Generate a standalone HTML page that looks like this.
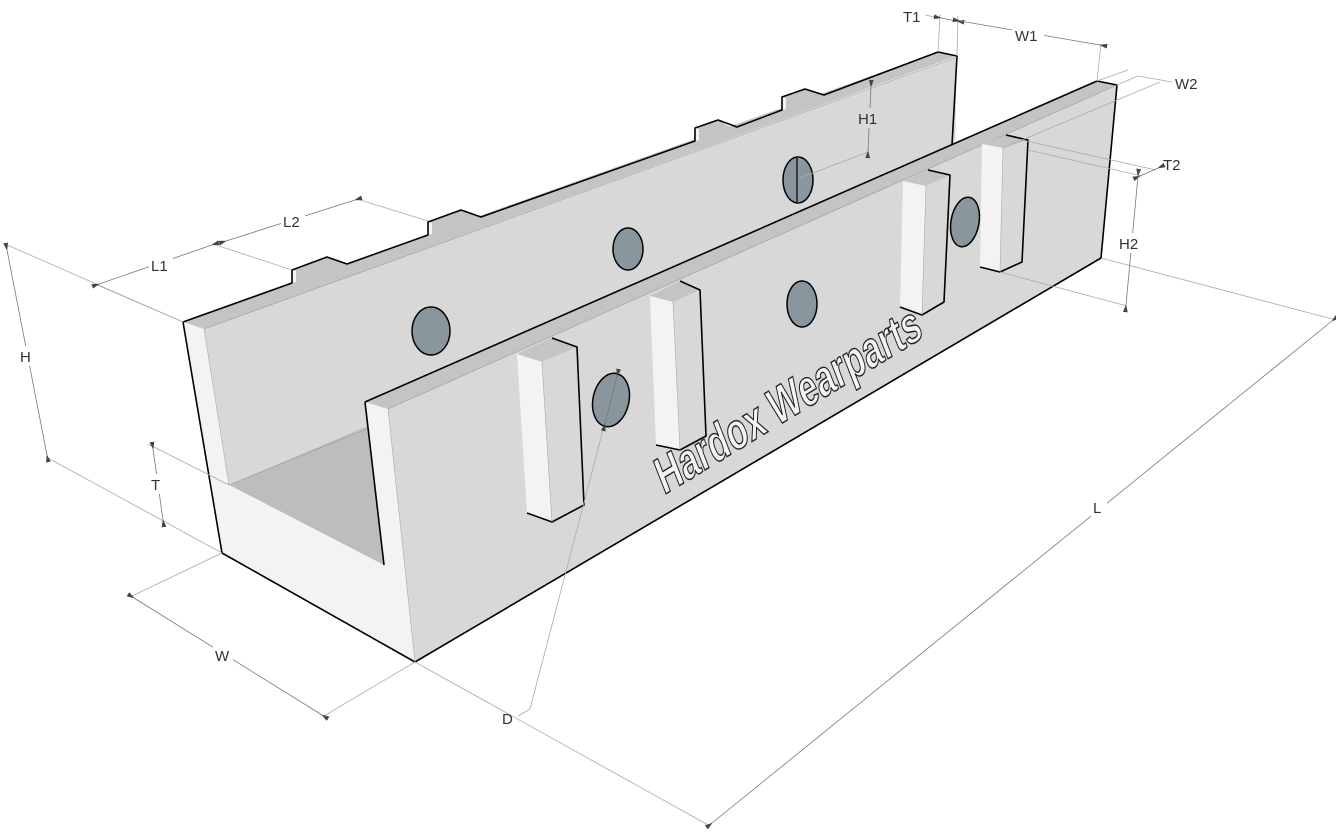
<!DOCTYPE html>
<html><head><meta charset="utf-8"><style>
html,body{margin:0;padding:0;background:#fff;}
svg{display:block;}
text{font-family:"Liberation Sans","DejaVu Sans",sans-serif;}
.d{stroke:#aaa;stroke-width:0.8;fill:none;}
.a{stroke:#777;stroke-width:0.8;fill:none;marker-start:url(#ar);marker-end:url(#ar);}
.l{font-size:15px;fill:#333;}
.k{stroke:#000;stroke-width:1.6;stroke-linejoin:round;}
</style></head><body>
<svg width="1336" height="835" viewBox="0 0 1336 835" xmlns="http://www.w3.org/2000/svg">
<defs>
<marker id="ar" viewBox="0 0 10 10" refX="1" refY="5" markerWidth="8" markerHeight="8" orient="auto-start-reverse" markerUnits="userSpaceOnUse">
<path d="M0,5 L10,2 L10,8 Z" fill="#444"/>
</marker>
</defs>

<!-- back plate inner face -->
<polygon points="204,329 957,57 952,300 229,485" fill="#d8d8d8"/>
<!-- floor -->
<polygon points="229,485 384,565 382,420" fill="#bdbdbd"/>
<line x1="229" y1="485" x2="384" y2="422" stroke="#999" stroke-width="0.6"/>
<!-- back plate top strip -->
<polygon points="183,322 938,52 957,56 204,329" fill="#c4c4c4"/>
<!-- tabs -->
<g fill="#c4c4c4">
<polygon points="292,283 292,270 327,257 347,264"/>
<polygon points="428,235 428,222 461,210 481,217"/>
<polygon points="695,141 695,128 718,120 737,131"/>
<polygon points="782,110 782,97 805,89 824,95"/>
</g>
<g fill="#f3f3f3">
<polygon points="292,283 292,270 296,271 296,282"/>
<polygon points="428,235 428,222 432,223 432,234"/>
<polygon points="695,141 695,128 699,129 699,140"/>
<polygon points="782,110 782,97 786,98 786,109"/>
</g>
<polyline class="k" fill="none" points="183,322 292,283 292,270 327,257 347,264 428,235 428,222 461,210 481,217 695,141 695,128 718,120 737,127 782,110 782,97 805,89 824,95 938,52 957,56 952,145"/>
<line x1="204" y1="329" x2="957" y2="57" stroke="#999" stroke-width="0.6"/>

<!-- back plate holes -->
<g fill="#8a969e" stroke="#000" stroke-width="1.5">
<ellipse cx="431" cy="331" rx="19" ry="24"/>
<ellipse cx="628" cy="249" rx="15" ry="21"/>
<ellipse cx="798" cy="180" rx="15" ry="23"/>
</g>
<line x1="797" y1="158" x2="797" y2="202" stroke="#000" stroke-width="1.2"/>

<!-- end face U -->
<polygon points="183,322 204,329 229,485 384,565 365,402 388,409 415,662 222,553" fill="#f3f3f3"/>
<polyline class="k" fill="none" points="183,322 222,553 415,662"/>
<polyline class="k" fill="none" points="365,402 384,565"/>
<line x1="204" y1="329" x2="229" y2="485" stroke="#aaa" stroke-width="0.6"/>

<!-- front plate top strip -->
<polygon points="365,402 1097,81 1117,85 388,409" fill="#c4c4c4"/>
<!-- front plate face -->
<polygon points="388,409 1117,85 1101,258 415,662" fill="#d8d8d8"/>
<polyline class="k" fill="none" points="365,402 1097,81 1117,85 1101,258 415,662"/>
<line x1="388" y1="409" x2="1117" y2="85" stroke="#999" stroke-width="0.6"/>
<line x1="388" y1="409" x2="415" y2="662" stroke="#aaa" stroke-width="0.6"/>

<!-- ribs -->
<g stroke-linejoin="round">
<polygon points="517,354 552,338 577,347 542,362" fill="#c4c4c4"/>
<polygon points="517,354 542,362 552,522 527,513" fill="#f3f3f3"/>
<polygon points="542,362 577,347 584,505 552,522" fill="#d8d8d8"/>
<polyline class="k" fill="none" points="552,338 577,347 584,505 552,522 527,513"/>
<line x1="542" y1="362" x2="552" y2="522" stroke="#aaa" stroke-width="0.6"/>

<polygon points="650,296 680,281 700,290 673,302" fill="#c4c4c4"/>
<polygon points="650,296 673,302 680,450 656,445" fill="#f3f3f3"/>
<polygon points="673,302 700,290 706,436 680,450" fill="#d8d8d8"/>
<polyline class="k" fill="none" points="680,281 700,290 706,436 680,450 656,445"/>
<line x1="673" y1="302" x2="680" y2="450" stroke="#aaa" stroke-width="0.6"/>

<polygon points="903,181 928,170 950,175 926,186" fill="#c4c4c4"/>
<polygon points="903,181 926,186 922,315 900,307" fill="#f3f3f3"/>
<polygon points="926,186 950,175 944,302 922,315" fill="#d8d8d8"/>
<polyline class="k" fill="none" points="928,170 950,175 944,302 922,315 900,307"/>
<line x1="926" y1="186" x2="922" y2="315" stroke="#aaa" stroke-width="0.6"/>

<polygon points="982,144 1006,135 1028,140 1003,148" fill="#c4c4c4"/>
<polygon points="982,144 1003,148 1000,272 980,267" fill="#f3f3f3"/>
<polygon points="1003,148 1028,140 1022,262 1000,272" fill="#d8d8d8"/>
<polyline class="k" fill="none" points="1006,135 1028,140 1022,262 1000,272 980,267"/>
<line x1="1003" y1="148" x2="1000" y2="272" stroke="#aaa" stroke-width="0.6"/>
</g>

<!-- front plate holes -->
<g fill="#8a969e" stroke="#000" stroke-width="1.5">
<ellipse cx="611" cy="400" rx="18" ry="27" transform="rotate(12 611 400)"/>
<ellipse cx="802" cy="304" rx="15" ry="23"/>
<ellipse cx="965" cy="222" rx="14" ry="25" transform="rotate(10 965 222)"/>
</g>

<!-- text -->
<text x="0" y="0" transform="translate(664,495) rotate(-31.3) skewX(-10)" font-size="50" font-weight="bold" fill="#f4f4f4" stroke="#222" stroke-width="1.4" textLength="305" lengthAdjust="spacingAndGlyphs">Hardox Wearparts</text>

<!-- dimension lines -->
<line class="d" x1="5" y1="244" x2="183" y2="322"/>
<line class="d" x1="48" y1="458" x2="222" y2="553"/>
<line class="a" x1="7" y1="250" x2="47" y2="455"/>
<rect x="18" y="346" width="18" height="20" fill="#fff"/>
<text class="l" x="20" y="362">H</text>
<line class="d" x1="148" y1="444" x2="229" y2="485"/>
<line class="a" x1="153" y1="449" x2="163" y2="520"/>
<rect x="150" y="474" width="14" height="20" fill="#fff"/>
<text class="l" x="151" y="490">T</text>
<line class="d" x1="130" y1="597" x2="222" y2="553"/>
<line class="d" x1="324" y1="716" x2="415" y2="662"/>
<line class="a" x1="134" y1="598" x2="322" y2="715"/>
<rect x="213" y="645" width="20" height="20" fill="#fff"/>
<text class="l" x="215" y="661">W</text>
<line class="d" x1="95" y1="284" x2="183" y2="322"/>
<line class="d" x1="213" y1="244" x2="292" y2="270"/>
<line class="a" x1="99" y1="284" x2="212" y2="245"/>
<rect x="149" y="255" width="24" height="20" fill="#fff"/>
<text class="l" x="151" y="271">L1</text>
<line class="d" x1="357" y1="199" x2="428" y2="221"/>
<line class="a" x1="226" y1="241" x2="355" y2="200"/>
<rect x="281" y="211" width="24" height="20" fill="#fff"/>
<text class="l" x="283" y="227">L2</text>
<line class="d" x1="868" y1="152" x2="800" y2="178"/>
<line class="a" x1="871" y1="87" x2="868" y2="151"/>
<rect x="857" y="108" width="26" height="20" fill="#d8d8d8"/>
<text class="l" x="858" y="124">H1</text>
<line class="d" x1="940" y1="14" x2="938" y2="52"/>
<line class="d" x1="958" y1="16" x2="957" y2="56"/>
<line class="d" x1="1101" y1="44" x2="1097" y2="81"/>
<line class="d" x1="925" y1="15" x2="940" y2="18"/>
<line class="a" x1="941" y1="18" x2="957" y2="21"/>
<line class="a" x1="960" y1="21" x2="1100" y2="45"/>
<rect x="1012" y="26" width="32" height="18" fill="#fff"/>
<text class="l" x="903" y="22">T1</text>
<text class="l" x="1015" y="41">W1</text>
<line class="d" x1="1117" y1="85" x2="1138" y2="76"/>
<line class="d" x1="1138" y1="76" x2="1172" y2="82"/>
<line class="d" x1="1097" y1="81" x2="1128" y2="70"/>
<line class="d" x1="1003" y1="148" x2="1160" y2="82"/>
<text class="l" x="1175" y="89">W2</text>
<line class="d" x1="1022" y1="140" x2="1156" y2="170"/>
<line class="d" x1="1028" y1="150" x2="1142" y2="176"/>
<line class="a" x1="1140" y1="176" x2="1158" y2="168"/>
<text class="l" x="1163" y="170">T2</text>
<line class="d" x1="1101" y1="258" x2="1336" y2="320"/>
<line class="d" x1="1000" y1="272" x2="1127" y2="306"/>
<line class="a" x1="1138" y1="176" x2="1126" y2="305"/>
<rect x="1118" y="233" width="26" height="20" fill="#fff"/>
<text class="l" x="1119" y="249">H2</text>
<line class="d" x1="415" y1="662" x2="710" y2="826"/>
<line class="a" x1="712" y1="823" x2="1332" y2="321"/>
<rect x="1091" y="497" width="16" height="20" fill="#fff"/>
<text class="l" x="1093" y="513">L</text>
<line class="d" x1="604" y1="426" x2="530" y2="709"/>
<line class="d" x1="530" y1="709" x2="518" y2="716"/>
<line class="a" x1="605" y1="424" x2="617" y2="376"/>
<text class="l" x="502" y="724">D</text>
</svg>
</body></html>
